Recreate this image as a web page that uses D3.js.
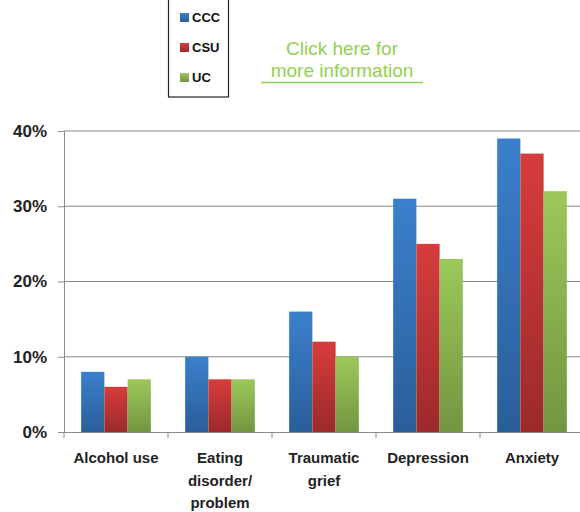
<!DOCTYPE html>
<html><head><meta charset="utf-8">
<script src="https://cdn.jsdelivr.net/npm/d3@7"></script>
<style>body{margin:0;background:#fff}svg{display:block}</style>
</head><body>
<svg id="c" width="580" height="512"></svg>
<script>
const categories = [["Alcohol use"],["Eating","disorder/","problem"],["Traumatic","grief"],["Depression"],["Anxiety"]];
const seriesNames = ["CCC","CSU","UC"];
const CCC = [8,10,16,31,39];
const CSU = [6,7,12,25,37];
const UC  = [7,7,10,23,32];
const yTicks = [0,10,20,30,40];
const linkLines = ["Click here for","more information"];

(function(){
const series = [CCC, CSU, UC];
const colors = [["#3b80cc","#2a5e99"],["#d73c3c","#9c2a2b"],["#9cc85b","#739540"]];
const svg = d3.select("#c");
const defs = svg.append("defs");
colors.forEach((c,i)=>{
  const g = defs.append("linearGradient").attr("id","g"+i).attr("x1",0).attr("y1",0).attr("x2",0).attr("y2",1);
  g.append("stop").attr("offset","0%").attr("stop-color",c[0]);
  g.append("stop").attr("offset","100%").attr("stop-color",c[1]);
});
const pl=64, pr=584, pt=131, pb=432;
const x = d3.scaleBand().domain(d3.range(categories.length)).range([pl,pr]).paddingInner(0).paddingOuter(0);
const y = d3.scaleLinear().domain([0,40]).range([pb,pt]);
const xs = d3.scaleBand().domain(d3.range(3)).range([0, x.bandwidth()*0.67]);
const off = x.bandwidth()*0.165;

// grid
svg.append("g").selectAll("line").data(yTicks.filter(d=>d>0)).join("line")
  .attr("x1",pl).attr("x2",580).attr("y1",d=>y(d)).attr("y2",d=>y(d))
  .attr("stroke","#8a8a8a").attr("stroke-width",1);

// bars
series.forEach((s,si)=>{
  svg.append("g").selectAll("rect").data(s).join("rect")
    .attr("x",(d,i)=>x(i)+off+xs(si)).attr("width",xs.bandwidth())
    .attr("y",d=>y(d)).attr("height",d=>pb-y(d))
    .attr("fill","url(#g"+si+")");
});

// y axis
const ya = svg.append("g").attr("transform",`translate(${pl},0)`)
  .call(d3.axisLeft(y).tickValues(yTicks).tickSize(6).tickFormat(d=>d+"%"));
ya.select(".domain").attr("stroke","#8a8a8a");
ya.selectAll(".tick line").attr("stroke","#8a8a8a");
ya.selectAll(".tick text").attr("x",-17).attr("font-family","Liberation Sans, Arial, sans-serif")
  .attr("font-size",17).attr("font-weight","bold").attr("fill","#222");

// x axis
const xa = svg.append("g").attr("transform",`translate(0,${pb})`)
  .call(d3.axisBottom(x).tickSize(0).tickFormat(""));
xa.select(".domain").attr("stroke","#8a8a8a");
const tickPos = d3.range(categories.length+1).map(i=>pl+i*x.bandwidth());
xa.append("g").selectAll("line").data(tickPos).join("line")
  .attr("x1",d=>d).attr("x2",d=>d).attr("y1",0).attr("y2",6).attr("stroke","#8a8a8a");
categories.forEach((lines,i)=>{
  const t = xa.append("text").attr("text-anchor","middle")
    .attr("font-family","Liberation Sans, Arial, sans-serif").attr("font-size",15).attr("font-weight","bold").attr("fill","#222");
  lines.forEach((l,j)=>t.append("tspan").attr("x",x(i)+x.bandwidth()/2).attr("y",31+j*22.5).text(l));
});

// legend
const lg = svg.append("g");
lg.append("rect").attr("x",168.5).attr("y",-1).attr("width",60).attr("height",98)
  .attr("fill","#fff").attr("stroke","#222").attr("stroke-width",1.2);
seriesNames.forEach((n,i)=>{
  const yy = 22+i*30;
  lg.append("rect").attr("x",180).attr("y",yy-9).attr("width",9).attr("height",9).attr("fill","url(#g"+i+")");
  lg.append("text").attr("x",192).attr("y",yy).attr("font-family","Liberation Sans, Arial, sans-serif")
    .attr("font-size",13).attr("font-weight","bold").attr("fill","#111").text(n);
});

// link text
const lt = svg.append("text").attr("text-anchor","middle").attr("font-family","Liberation Sans, Arial, sans-serif")
  .attr("font-size",19).attr("fill","#92d050");
linkLines.forEach((l,j)=>lt.append("tspan").attr("x",342).attr("y",55+j*21.5).text(l));
svg.append("line").attr("x1",261).attr("x2",423).attr("y1",82.5).attr("y2",82.5).attr("stroke","#92d050").attr("stroke-width",1.3);
})();
</script>
</body></html>
